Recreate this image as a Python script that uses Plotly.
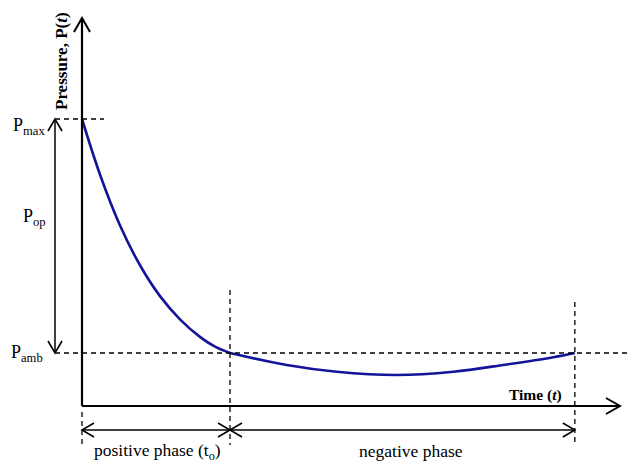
import plotly.graph_objects as go

# ---- data (schematic blast wave), time in units of t_o, pressure normalised ----
T_O = 1.0          # end of positive phase
T_END = 3.33       # end of negative phase
P_MAX = 1.0
P_AMB = 0.0

pos_time = [0.0, 0.122, 0.257, 0.392, 0.527, 0.662, 0.797, 0.899, 1.0]
pos_pressure = [1.0, 0.762, 0.545, 0.375, 0.243, 0.144, 0.069, 0.027, 0.0]
neg_time = [1.0, 1.383, 1.721, 2.126, 2.509, 2.847, 3.185, 3.33]
neg_pressure = [0.0, -0.051, -0.080, -0.094, -0.080, -0.051, -0.018, 0.0]

# ---- geometry helpers (pixel scale of the axes) ----
W, H = 627, 462
PX_T = 148.0    # px per time unit
PX_P = 234.0    # px per pressure unit
X0 = -82 / PX_T
X1 = X0 + W / PX_T
Y1 = 353 / PX_P
Y0 = Y1 - H / PX_P

def dt(px):
    return px / PX_T

def dp(px):
    return px / PX_P

AX_P = -dp(53)          # x-axis height
AX_TOP = Y1 - dp(18)    # y-axis arrow tip
AX_RIGHT = X0 + dt(620) # x-axis arrow tip
POP_T = -dt(27)
ARR_P = -dp(77)
DASH_BOT = -dp(92)

fig = go.Figure()
for tx, py in ((pos_time, pos_pressure), (neg_time, neg_pressure)):
    fig.add_trace(go.Scatter(x=tx, y=py, mode="lines",
                             line=dict(color="#14149a", width=2.6, shape="spline", smoothing=1),
                             hoverinfo="skip", showlegend=False))

shapes = []

def line(x0, y0, x1, y1, width=2, dash=None):
    d = dict(color="black", width=width)
    if dash:
        d["dash"] = dash
    shapes.append(dict(type="line", x0=x0, y0=y0, x1=x1, y1=y1, xref="x", yref="y", line=d))

def chevron(t, p, direction, L=12, Wd=7, width=1.6):
    # open V arrowhead with tip at (t, p)
    if direction == "up":
        pts = [(t - dt(Wd), p - dp(L)), (t, p), (t + dt(Wd), p - dp(L))]
    elif direction == "down":
        pts = [(t - dt(Wd), p + dp(L)), (t, p), (t + dt(Wd), p + dp(L))]
    elif direction == "right":
        pts = [(t - dt(L), p + dp(Wd)), (t, p), (t - dt(L), p - dp(Wd))]
    else:
        pts = [(t + dt(L), p + dp(Wd)), (t, p), (t + dt(L), p - dp(Wd))]
    path = "M {} {} L {} {} L {} {}".format(*[v for pt in pts for v in pt])
    shapes.append(dict(type="path", path=path, xref="x", yref="y",
                       line=dict(color="black", width=width)))

# axes
line(0, AX_P, 0, AX_TOP, width=2.2)
chevron(0, AX_TOP, "up", L=14, Wd=8, width=2)
line(0, AX_P, AX_RIGHT, AX_P, width=2.2)
chevron(AX_RIGHT, AX_P, "right", L=14, Wd=8, width=2)

# dashed reference lines
line(POP_T, P_MAX, dt(22), P_MAX, width=1.3, dash="5px,4px")
line(POP_T, P_AMB, X1, P_AMB, width=1.3, dash="5px,4px")
line(T_O, dp(63), T_O, DASH_BOT, width=1.3, dash="5px,4px")
line(T_END, dp(51), T_END, DASH_BOT, width=1.3, dash="5px,4px")
line(0, AX_P - dp(6), 0, DASH_BOT, width=1.3, dash="5px,4px")

# P_op double arrow
line(POP_T, P_MAX, POP_T, P_AMB, width=1.5)
chevron(POP_T, P_MAX, "up")
chevron(POP_T, P_AMB, "down")

# phase arrows
line(0, ARR_P, T_O, ARR_P, width=1.5)
chevron(0, ARR_P, "left")
chevron(T_O, ARR_P, "right")
line(T_O, ARR_P, T_END, ARR_P, width=1.5)
chevron(T_O, ARR_P, "left")
chevron(T_END, ARR_P, "right")

fig.update_layout(shapes=shapes)

serif = "Liberation Serif"
ann = []
def text(s, x, y, xa="center", ya="middle", size=16, angle=0):
    ann.append(dict(text=s, x=x, y=y, xref="x", yref="y", xanchor=xa, yanchor=ya,
                    showarrow=False, textangle=angle,
                    font=dict(family=serif, size=size, color="black")))

text("P<sub>max</sub>", -dt(35), P_MAX - dp(7), xa="right", size=18)
text("P<sub>op</sub>", -dt(34), P_MAX - dp(98), xa="right", size=18)
text("P<sub>amb</sub>", -dt(37), P_AMB, xa="right", size=18)
text("<b>Pressure, P(<i>t</i>)</b>", -dt(21), Y1 - dp(61), size=17, angle=-90)
text("<b>Time (<i>t</i>)</b>", X0 + dt(564), AX_P + dp(11), xa="right", size=15.5)
text("positive phase (t<sub>o</sub>)", X0 + dt(157), Y1 - dp(451), size=17.5)
text("negative phase", X0 + dt(411), Y1 - dp(451), size=17.5)
fig.update_layout(annotations=ann)

fig.update_layout(width=W, height=H, margin=dict(l=0, r=0, t=0, b=0),
                  paper_bgcolor="white", plot_bgcolor="white",
                  xaxis=dict(range=[X0, X1], visible=False, fixedrange=True),
                  yaxis=dict(range=[Y0, Y1], visible=False, fixedrange=True))

fig.write_html("out.html", config={"displayModeBar": False},
               post_script="document.body.style.margin='0';document.body.style.overflow='hidden';")
